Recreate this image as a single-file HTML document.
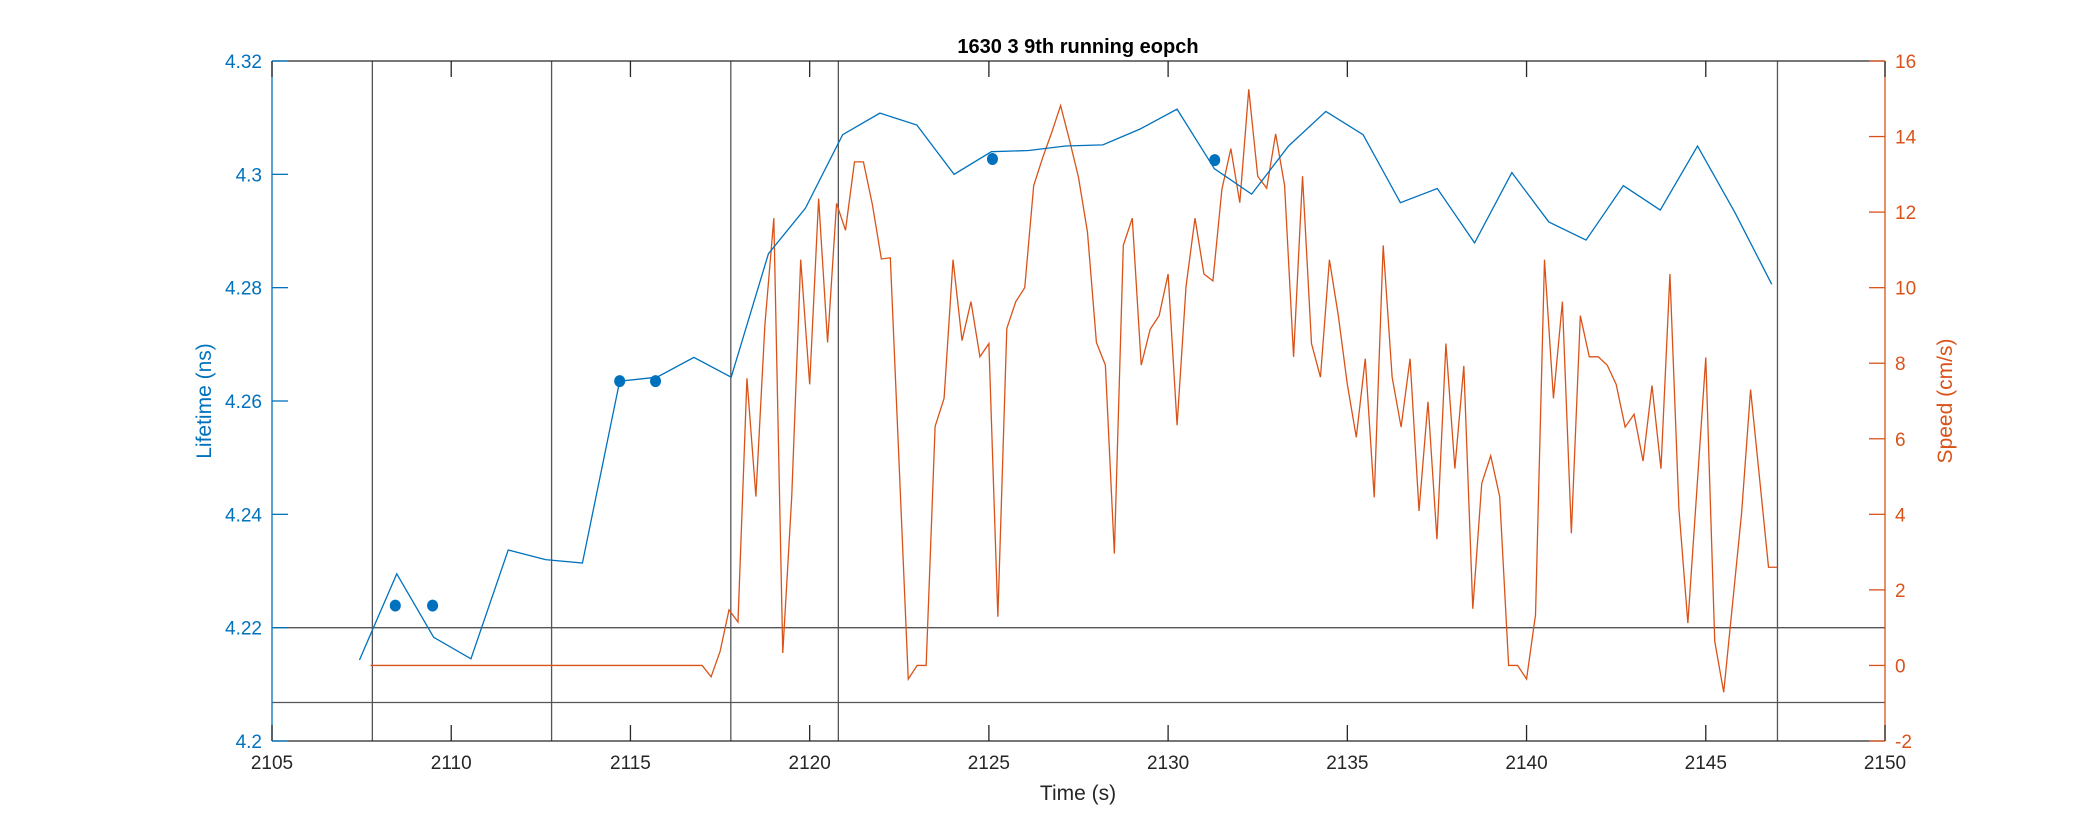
<!DOCTYPE html>
<html><head><meta charset="utf-8"><style>
html,body{margin:0;padding:0;background:#fff;}
svg{display:block;font-family:"Liberation Sans",Arial,sans-serif;}
</style></head><body>
<svg id="chart" width="2083" height="833" viewBox="0 0 2083 833"></svg>
<script>
const lifeTimes=[2107.44,2108.48,2109.51,2110.55,2111.59,2112.63,2113.66,2114.70,2115.74,2116.77,2117.81,2118.85,2119.88,2120.92,2121.96,2122.99,2124.03,2125.07,2126.11,2127.14,2128.18,2129.22,2130.25,2131.29,2132.33,2133.36,2134.40,2135.44,2136.48,2137.51,2138.55,2139.59,2140.62,2141.66,2142.70,2143.73,2144.77,2145.81,2146.84];
const lifeValues=[4.2143,4.2295,4.2183,4.2145,4.2337,4.232,4.2314,4.2635,4.2642,4.2677,4.2642,4.286,4.294,4.307,4.3108,4.3087,4.300,4.304,4.3042,4.305,4.3052,4.308,4.3115,4.301,4.2965,4.305,4.3111,4.307,4.295,4.2975,4.2879,4.3003,4.2916,4.2884,4.298,4.2937,4.305,4.2933,4.2806];
const dotTimes=[2108.44,2109.48,2114.7,2115.7,2125.1,2131.3];
const dotValues=[4.2239,4.2239,4.2635,4.2635,4.3027,4.3025];
const speedStart=2107.75, speedStep=0.25;
const speedValues=[0,0,0,0,0,0,0,0,0,0,0,0,0,0,0,0,0,0,0,0,0,0,0,0,0,0,0,0,0,0,0,0,0,0,0,0,0,0,
-0.30,0.37,1.47,1.15,7.6,4.47,9.0,11.84,0.33,4.47,10.74,7.44,12.36,8.55,12.23,11.52,13.33,13.33,12.2,10.76,10.79,5.23,-0.36,0,0,6.33,7.07,10.74,8.6,9.63,8.17,
8.52,1.29,8.92,9.63,10.0,12.7,13.44,14.1,14.82,13.9,12.92,11.47,8.55,7.95,2.96,11.12,11.84,7.95,8.9,9.26,10.36,6.36,10.03,11.84,10.36,10.18,12.6,13.68,12.25,15.25,12.95,
12.63,14.07,12.7,8.17,12.95,8.52,7.63,10.74,9.25,7.44,6.04,8.12,4.45,11.12,7.63,6.31,8.12,4.09,6.98,3.34,8.52,5.21,7.93,1.5,4.82,5.55,4.47,0,0,-0.36,1.34,
10.74,7.07,9.63,3.5,9.26,8.17,8.17,7.95,7.44,6.31,6.65,5.41,7.41,5.21,10.36,4.15,1.12,4.63,8.15,0.64,-0.71,1.66,4.04,7.3,4.96,2.6,2.6];
const vLines=[2107.8,2112.8,2117.8,2120.8,2147.0];
const hLines=[4.22,4.2068];
const xTicks=[2105,2110,2115,2120,2125,2130,2135,2140,2145,2150];
const yLTicks=[4.2,4.22,4.24,4.26,4.28,4.3,4.32];
const yLLabels=["4.2","4.22","4.24","4.26","4.28","4.3","4.32"];
const yRTicks=[-2,0,2,4,6,8,10,12,14,16];

const L=272,R=1885,T=61,B=741;
const X=t=>L+(t-2105)/(45)*(R-L);
const YL=v=>B-(v-4.2)/0.12*(B-T);
const YR=v=>B-(v+2)/18*(B-T);
const BLUE="#0072BD",ORANGE="#D95319";
const svg=document.getElementById('chart');
const NS="http://www.w3.org/2000/svg";
function mk(tag,attrs,parent){const e=document.createElementNS(NS,tag);for(const k in attrs)e.setAttribute(k,attrs[k]);(parent||svg).appendChild(e);return e;}

// reference lines
vLines.forEach(t=>{const e=mk('line',{x1:X(t),x2:X(t),y1:T,y2:B,stroke:'#555','stroke-width':1.3});

});
hLines.forEach(v=>{const e=mk('line',{x1:L,x2:R,y1:YL(v),y2:YL(v),stroke:'#555','stroke-width':1.3});

});

// speed line
let sp=speedValues.map((v,i)=>X(speedStart+i*speedStep).toFixed(2)+','+YR(v).toFixed(2)).join(' ');
const spl=mk('polyline',{points:sp,fill:'none',stroke:ORANGE,'stroke-width':1.3});



// lifetime line
let lp=lifeValues.map((v,i)=>X(lifeTimes[i]).toFixed(2)+','+YL(v).toFixed(2)).join(' ');
const lpl=mk('polyline',{points:lp,fill:'none',stroke:BLUE,'stroke-width':1.3});


dotValues.forEach((v,i)=>{const c=mk('ellipse',{cx:X(dotTimes[i]),cy:YL(v),rx:5.5,ry:6,fill:BLUE});

});

// axes box
const ab=mk('line',{x1:L,x2:R,y1:B,y2:B,stroke:'#262626','stroke-width':1.3});


const at=mk('line',{x1:L,x2:R,y1:T,y2:T,stroke:'#262626','stroke-width':1.3});


const al=mk('line',{x1:L,x2:L,y1:T,y2:B,stroke:BLUE,'stroke-width':1.3});


const ar=mk('line',{x1:R,x2:R,y1:T,y2:B,stroke:ORANGE,'stroke-width':1.3});



xTicks.forEach(t=>{const x=X(t);
mk('line',{x1:x,x2:x,y1:B,y2:B-16,stroke:'#262626','stroke-width':1.3});
mk('line',{x1:x,x2:x,y1:T,y2:T+16,stroke:'#262626','stroke-width':1.3});
const tx=mk('text',{x:x,y:B+28,'text-anchor':'middle','font-size':19,fill:'#262626'});tx.textContent=t;

});
yLTicks.forEach((v,i)=>{const y=YL(v);
mk('line',{x1:L,x2:L+16,y1:y,y2:y,stroke:BLUE,'stroke-width':1.3});
const tx=mk('text',{x:L-10,y:y+7,'text-anchor':'end','font-size':19,fill:BLUE});tx.textContent=yLLabels[i];

});
yRTicks.forEach(v=>{const y=YR(v);
mk('line',{x1:R,x2:R-16,y1:y,y2:y,stroke:ORANGE,'stroke-width':1.3});
const tx=mk('text',{x:R+10,y:y+7,'text-anchor':'start','font-size':19,fill:ORANGE});tx.textContent=v;

});
</script>
<svg width="0" height="0"></svg>
<script>
(function(){
const svg=document.getElementById('chart');const NS="http://www.w3.org/2000/svg";
function txt(s,attrs,name){const e=document.createElementNS(NS,'text');for(const k in attrs)e.setAttribute(k,attrs[k]);e.textContent=s;svg.appendChild(e);

}
txt('1630 3 9th running eopch',{x:1078,y:53,'text-anchor':'middle','font-size':20,'font-weight':'bold',fill:'#000'},'chart-title');
txt('Time (s)',{x:1078,y:800,'text-anchor':'middle','font-size':21,fill:'#262626'},'x-axis-title');
txt('Lifetime (ns)',{x:0,y:0,'text-anchor':'middle','font-size':21,fill:'#0072BD',transform:'translate(211,401) rotate(-90)'},'left-y-axis-title');
txt('Speed (cm/s)',{x:0,y:0,'text-anchor':'middle','font-size':21,fill:'#D95319',transform:'translate(1952,401) rotate(-90)'},'right-y-axis-title');
})();
</script>
</body></html>
